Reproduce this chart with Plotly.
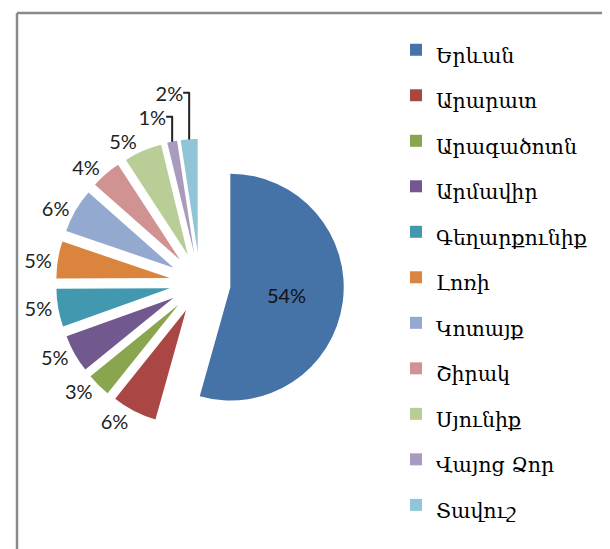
import plotly.graph_objects as go

regions = ["Երևան", "Արարատ", "Արագածոտն", "Արմավիր", "Գեղարքունիք", "Լոռի",
           "Կոտայք", "Շիրակ", "Սյունիք", "Վայոց Ձոր", "Տավուշ"]
shares = [54.4, 6.4, 3.4, 5.4, 5.4, 5.3, 6.3, 4.3, 5.4, 1.4, 2.4]
colors = ["#4572A7", "#AA4643", "#89A54E", "#71588F", "#4198AF", "#DB843D",
          "#93A9CF", "#D09392", "#B9CD96", "#A99BBD", "#92C4D7"]

W, H = 610, 549
legend_labels = ['<span style="font-size:20.5px">%s</span>' % r for r in regions]
positions = ["inside"] + ["outside"] * (len(regions) - 1)

fig = go.Figure(go.Pie(
    labels=legend_labels,
    values=shares,
    sort=False,
    direction="clockwise",
    rotation=0,
    pull=0.27,
    marker=dict(colors=colors, line=dict(width=0)),
    texttemplate="%{percent:.0%}",
    textposition=positions,
    textfont=dict(family="Lato", size=20, color="#222222"),
    insidetextfont=dict(family="Lato", size=20, color="#111111"),
    insidetextorientation="horizontal",
    domain=dict(x=[48 / W, 336 / W], y=[1 - 419 / H, 1 - 131 / H]),
    hoverinfo="label+percent",
))

fig.update_layout(
    width=W, height=H,
    margin=dict(l=0, r=0, t=0, b=0, autoexpand=False),
    paper_bgcolor="white",
    plot_bgcolor="white",
    showlegend=True,
    legend=dict(
        x=388 / W, xanchor="left",
        y=1 - 14 / H, yanchor="top",
        font=dict(family="DejaVu Serif", size=32.7, color="#000000"),
        bgcolor="rgba(0,0,0,0)",
        borderwidth=0,
    ),
    shapes=[
        dict(type="line", xref="paper", yref="paper", x0=9 / W, x1=1.02, y0=1 - 5 / H, y1=1 - 5 / H,
             line=dict(color="#8a8a8a", width=2.5)),
        dict(type="line", xref="paper", yref="paper", x0=9 / W, x1=9 / W, y0=1 - 5 / H, y1=-0.02,
             line=dict(color="#8a8a8a", width=2.5)),
    ],
)

fig.write_html("out.html")
